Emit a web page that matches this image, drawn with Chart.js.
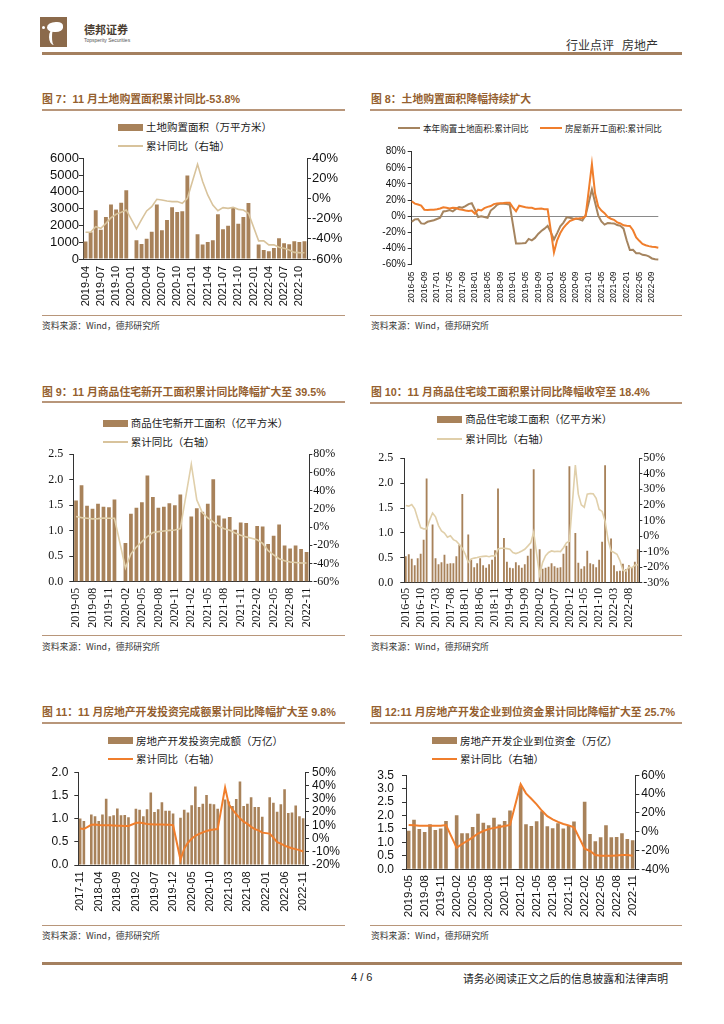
<!DOCTYPE html>
<html>
<head>
<meta charset="utf-8">
<title>行业点评 房地产</title>
<script src="https://cdn.jsdelivr.net/npm/chart.js@4.4.1/dist/chart.umd.min.js"></script>
<style>
  body { margin:0; width:724px; height:1024px; position:relative; background:#fff; overflow:hidden;
         font-family:"Liberation Sans","Noto Sans CJK SC",sans-serif; }
  .a { position:absolute; white-space:nowrap; }
  .title { font-size:10.8px; font-weight:bold; color:#955f2f; line-height:14px; }
  .rule { position:absolute; background:#b8967a; }
  .src { font-size:8.8px; color:#333; line-height:12px; font-family:"Noto Sans CJK SC","Liberation Sans",sans-serif; }
  .leg { font-size:10.5px; color:#222; line-height:14px; font-family:"Noto Sans CJK SC",sans-serif; }
  canvas { position:absolute; }
</style>
</head>
<body>

<!-- header -->
<div class="a" style="left:40px;top:17px;width:27px;height:30px;background:#8b6a4b;overflow:hidden">
  <div class="a" style="left:7px;top:5px;width:16px;height:10px;background:#fff;border-radius:60% 40% 50% 50%"></div>
  <div class="a" style="left:9px;top:12px;width:7px;height:16px;border-left:3px solid #fff;border-radius:50% 0 0 50%"></div>
  <div class="a" style="left:2px;top:9px;width:3px;height:3px;background:#fff;border-radius:50%"></div>
</div>
<div class="a" style="left:84px;top:21px;font-size:11px;font-weight:bold;color:#4a3c30;font-family:'Noto Sans CJK SC'">德邦证券</div>
<div class="a" style="left:84px;top:37px;font-size:5px;color:#555">Topsperity Securities</div>
<div class="a" style="left:566px;top:36px;font-size:12px;color:#333;font-family:'Noto Sans CJK SC'">行业点评&nbsp;&nbsp;&nbsp;房地产</div>
<div class="rule" style="left:42px;top:52px;width:640px;height:2.5px;background:#a4805f"></div>

<!-- titles and rules -->
<div class="a title" style="left:42px;top:92px">图 7：11 月土地购置面积累计同比-53.8%</div>
<div class="rule" style="left:42px;top:109px;width:303px;height:2px"></div>
<div class="rule" style="left:42px;top:314.5px;width:303px;height:1.5px"></div>
<div class="a src" style="left:42px;top:319.5px">资料来源：Wind，德邦研究所</div>

<div class="a title" style="left:371px;top:92px">图 8：土地购置面积降幅持续扩大</div>
<div class="rule" style="left:370px;top:109px;width:312px;height:2px"></div>
<div class="rule" style="left:370px;top:314.5px;width:312px;height:1.5px"></div>
<div class="a src" style="left:371px;top:319.5px">资料来源：Wind，德邦研究所</div>

<div class="a title" style="left:42px;top:385px">图 9：11 月商品住宅新开工面积累计同比降幅扩大至 39.5%</div>
<div class="rule" style="left:42px;top:401px;width:303px;height:2px"></div>
<div class="rule" style="left:42px;top:634.5px;width:303px;height:1.5px"></div>
<div class="a src" style="left:42px;top:640.5px">资料来源：Wind，德邦研究所</div>

<div class="a title" style="left:371px;top:385px">图 10：11 月商品住宅竣工面积累计同比降幅收窄至 18.4%</div>
<div class="rule" style="left:370px;top:401.5px;width:312px;height:2px"></div>
<div class="rule" style="left:370px;top:634.5px;width:312px;height:1.5px"></div>
<div class="a src" style="left:371px;top:640.5px">资料来源：Wind，德邦研究所</div>

<div class="a title" style="left:42px;top:705px">图 11：11 月房地产开发投资完成额累计同比降幅扩大至 9.8%</div>
<div class="rule" style="left:42px;top:722px;width:303px;height:2px"></div>
<div class="rule" style="left:42px;top:924.5px;width:303px;height:1.5px"></div>
<div class="a src" style="left:42px;top:929.5px">资料来源：Wind，德邦研究所</div>

<div class="a title" style="left:371px;top:705px">图 12:11 月房地产开发企业到位资金累计同比降幅扩大至 25.7%</div>
<div class="rule" style="left:370px;top:722px;width:312px;height:2px"></div>
<div class="rule" style="left:370px;top:924.5px;width:312px;height:1.5px"></div>
<div class="a src" style="left:371px;top:929.5px">资料来源：Wind，德邦研究所</div>

<!-- footer -->
<div class="rule" style="left:42px;top:962px;width:640px;height:2.5px;background:#a4805f"></div>
<div class="a" style="left:351px;top:971px;font-size:11px;color:#222">4 / 6</div>
<div class="a" style="left:463px;top:970px;font-size:10.8px;color:#222;font-family:'Noto Sans CJK SC'">请务必阅读正文之后的信息披露和法律声明</div>

<script>
// ---------- data ----------
function months(y, m, n) {
  var out = [];
  for (var i = 0; i < n; i++) {
    var k = m - 1 + i, yy = y + Math.floor(k / 12), mm = k % 12 + 1;
    out.push(yy + '-' + (mm < 10 ? '0' : '') + mm);
  }
  return out;
}

// 图7 土地购置面积（万平方米）, 2019-04 .. 2022-11
var cat7 = months(2019, 4, 44);
var landArea = [1050, 1600, 2900, 1750, 2500, 3250, 2950, 3350, 4100,
  null, 1120, 900, 1200, 1620, 3250, 1720, 2320, 3080, 2800, 2840, 4980,
  null, 1480, 860, 1020, 1120, 2660, 1780, 1980, 3050, 2100, 2500, 3330,
  null, 860, 540, 460, 660, 1240, 940, 880, 1060, 1020, 1060];
var landYoY = [-33.5, -33.5, -28, -29.5, -24.6, -19, -15.6, -13.6, -11.3,
  null, -30, -21, -12.3, -8, -0.7, -1.4, -2.4, -3, -3, -4.7, 0.3,
  null, 34, 17, 3.6, -6.4, -12, -9, -9.7, -8.7, -10.7, -11.3, -14.6,
  null, -42, -42, -46, -45.8, -48.4, -49.4, -51, -53.4, -53.7, -53.8];

// 图8 累计同比, 2016-05 .. 2022-11
var cat8 = months(2016, 5, 79);
var landBuyYoY = [-7, -4, -3.5, -9, -9.5, -7, -6, -5, -3.5, -2,
  5.8, 6.5, 7.5, 6, 9, 11.2, 10.5, 12.5, 15, 16,
  8, -1, 0, -1, -2, 7, 10, 14, 15.5, 15.5,
  15, 14.2, -10, -34, -33.8, -33.7, -33.5, -28.2, -30, -27,
  -22, -18.5, -15.5, -12, -20, -29, -21, -12.5, -8, -1.5,
  -2, -3, -3.3, -4, -5.5, 1, 17, 33, 17, 1,
  -6.5, -10.5, -8.5, -8.8, -9, -11, -12, -15.5, -30, -42,
  -41.8, -46, -46, -48, -48.4, -50, -52.5, -53.5, -53.8];
var newStartYoY = [18.5, 15.5, 14.5, 13, 8, 7.5, 8, 8, 8.5, 9.5,
  11, 10.5, 9.5, 10.5, 10, 8.5, 8, 7, 6.5, 7,
  3, 8, 7, 10, 11.5, 12.5, 15, 15.8, 16, 16.2,
  16.5, 16.5, 11, 6, 13, 12, 11, 10.5, 10.3, 9,
  9.3, 9.5, 8.7, 8.5, -18, -45, -30, -21, -14.5, -10,
  -6, -4.5, -3, -2.7, -2.2, 0, 32, 64.5, 28, 12,
  6.9, 3.8, -0.9, -3.2, -4.5, -7.7, -9.1, -11.4, -12, -12.2,
  -17.5, -26.3, -30.6, -34.4, -36.1, -37.2, -38, -38.4, -39.2];

// 图9 商品住宅新开工面积（亿平方米）, 2019-05 .. 2022-11
var cat9 = months(2019, 5, 43);
var resStart = [1.59, 1.89, 1.49, 1.43, 1.53, 1.47, 1.46, 1.61,
  null, 0.76, 1.33, 1.45, 1.56, 2.08, 1.66, 1.45, 1.47, 1.54, 1.50, 1.71,
  null, 1.28, 1.44, 1.37, 1.53, 2.01, 1.30, 1.24, 1.27, 1.02, 1.16, 1.15,
  null, 1.09, 1.08, 0.74, 0.90, 1.12, 0.71, 0.65, 0.71, 0.64, 0.58];
var resStartYoY = [11.5, 10.4, 9.7, 9, 9.3, 10, 9.7, 9.7,
  null, -44.9, -29.4, -22, -16, -10.4, -6, -5, -4.3, -3.6, -3.2, -1.8,
  null, 69, 29.8, 16, 10, 5.7, 1, -1.8, -3.6, -6.5, -9, -10.8,
  null, -14, -18, -26, -30.5, -34.8, -37, -38.4, -39, -39.5, -39.5];

// 图10 商品住宅竣工面积（亿平方米）, 2016-05 .. 2022-11
var cat10 = months(2016, 5, 79);
var resDone = [0.53, 0.57, 0.48, 0.35, 0.49, 0.58, 0.86, 2.09,
  null, 1.17, 0.49, 0.37, 0.41, 0.56, 0.38, 0.39, 0.39, 0.53, 0.76, 1.78,
  null, 0.97, 0.46, 0.31, 0.39, 0.49, 0.35, 0.30, 0.37, 0.46, 0.65, 1.89,
  null, 0.90, 0.42, 0.30, 0.29, 0.41, 0.35, 0.30, 0.37, 0.54, 0.68, 2.28,
  null, 0.67, 0.28, 0.30, 0.32, 0.39, 0.33, 0.30, 0.31, 0.58, 0.74, 2.34,
  null, 1.00, 0.40, 0.28, 0.33, 0.64, 0.39, 0.37, 0.31, 0.46, 0.82, 2.36,
  null, 0.89, 0.35, 0.23, 0.24, 0.38, 0.27, 0.35, 0.31, 0.42, 0.67];
var resDoneYoY = [19.6, 19.2, 20.2, 17.5, 11.2, 5.4, 4.6, 4.6,
  10.2, 14.8, 12.3, 6.7, 3.3, 1.9, -0.8, 0.2, -2.3, -3.3, -5.4, -7.9,
  -11.7, -16.9, -14.8, -14.2, -13.8, -13.3, -13.1, -12.9, -13.3, -12.7, -12.9, -8.3,
  -7.9, -7.9, -8.1, -8.5, -10.6, -11.3, -10.6, -9.6, -8.5, -6.5, -4.4, 2.5,
  -11.7, -25, -16.9, -12.7, -10.6, -9.6, -10, -9.8, -10, -7.5, -4.4, -3.3,
  21, 45.6, 26.9, 20, 18.5, 26.9, 27.3, 27.1, 24.2, 17.1, 15.8, 9.6,
  -2.3, -9.6, -10.6, -11.7, -15.8, -22, -22.5, -20, -20.4, -18.8, -18.4];

// 图11 房地产开发投资完成额（万亿）, 2017-11 .. 2022-11
var cat11 = months(2017, 11, 61);
var invest = [1.00, 0.95,
  null, 1.09, 1.05, 0.95, 1.09, 1.43, 1.05, 1.07, 1.22, 1.07, 1.08, 1.03,
  null, 1.21, 1.19, 1.05, 1.20, 1.56, 1.14, 1.20, 1.35, 1.17, 1.17, 1.11,
  null, 1.02, 1.19, 1.13, 1.29, 1.69, 1.25, 1.32, 1.51, 1.32, 1.31, 1.21,
  null, 1.41, 1.37, 1.27, 1.42, 1.80, 1.27, 1.32, 1.46, 1.25, 1.25, 1.04,
  null, 1.46, 1.34, 1.15, 1.31, 1.63, 1.12, 1.13, 1.28, 1.05, 1.01];
var investYoY = [7.6, 7.1,
  null, 10.3, 10.5, 10.1, 9.9, 10, 10, 9.8, 9.6, 9.6, 9.5, 9.4,
  null, 11.7, 12, 11.5, 11, 10.8, 10.5, 10.5, 10.5, 10.4, 10.3, 10,
  null, -16.1, -7.6, -3.2, -0.2, 2, 3.4, 4.6, 5.6, 6.4, 6.8, 7.1,
  null, 38.4, 25.7, 21.8, 18.3, 15.2, 12.7, 11, 8.8, 7.1, 6.1, 4.4,
  null, 3.7, 0.7, -2.7, -3.9, -5.4, -6.4, -7.3, -8, -8.8, -9.8];

// 图12 房地产开发企业到位资金（万亿）, 2019-05 .. 2022-11
var cat12 = months(2019, 5, 43);
var funds = [1.43, 1.84, 1.50, 1.39, 1.68, 1.46, 1.52, 1.80,
  null, 2.01, 1.34, 1.34, 1.57, 2.07, 1.73, 1.64, 1.92, 1.67, 1.80, 2.19,
  null, 3.10, 1.68, 1.61, 1.79, 2.16, 1.60, 1.53, 1.71, 1.52, 1.65, 1.78,
  null, 2.51, 1.31, 1.04, 1.19, 1.64, 1.19, 1.20, 1.34, 1.13, 1.08];
var fundsYoY = [7.1, 6.7, 6.4, 6.4, 6.4, 6.4, 6.4, 7.1,
  null, -17.2, -13.1, -9.8, -6.1, -2, 0.7, 2.7, 4, 5, 6.1, 7.1,
  null, 50.5, 40.7, 35, 29, 22.2, 16.5, 13.1, 10.4, 8.1, 6.7, 4.7,
  null, -18.2, -20.5, -24.9, -25.6, -25.6, -25.6, -25.3, -24.9, -24.9, -25.7];

// ---------- styles ----------
var BAR = '#a8825a', TAN = '#d8c39c', PALE = '#e0cfaa', ORANGE = '#f07e2c', BROWN = '#a5845f';
var SANS = 'Liberation Sans', SERIF = 'Liberation Serif';
var pct = function (v) { return v + '%'; };
var one = function (v) { return v.toFixed(1); };

function place(left, top, w, h) {
  var c = document.createElement('canvas');
  c.width = w; c.height = h;
  c.style.left = left + 'px'; c.style.top = top + 'px';
  document.body.appendChild(c);
  return c;
}

function legend(x, cy, kind, color, text, size) {
  var s = document.createElement('div');
  s.className = 'a';
  var h = kind === 'bar' ? 7 : 2;
  var w = size ? 22 : 25;
  s.style.cssText = 'left:' + x + 'px;top:' + (cy - h / 2) + 'px;width:' + w + 'px;height:' + h + 'px;background:' + color;
  document.body.appendChild(s);
  var t = document.createElement('div');
  t.className = 'a leg';
  t.textContent = text;
  t.style.left = (x + w + 3) + 'px';
  t.style.top = (cy - 7) + 'px';
  if (size) t.style.fontSize = size + 'px';
  document.body.appendChild(t);
}

function xAxis(step, fam, size, h, pad, offset, line) {
  return {
    offset: offset,
    border: { display: line, color: '#333', width: 1 },
    grid: { display: false, drawTicks: false },
    ticks: { autoSkip: false, minRotation: 90, maxRotation: 90, padding: pad, color: '#111',
      font: { family: fam, size: size },
      callback: function (v, i) { return i % step === 0 ? this.getLabelForValue(v) : null; } },
    afterFit: function (s) { s.height = h; }
  };
}

function yAxis(pos, min, max, step, fmt, fam, size, w, tick, pad) {
  return {
    position: pos, min: min, max: max,
    border: { display: true, color: '#333', width: 1 },
    grid: { drawOnChartArea: false, drawTicks: true, tickLength: tick, color: '#333' },
    ticks: { stepSize: step, autoSkip: false, padding: pad, color: '#111',
      font: { family: fam, size: size }, callback: fmt },
    afterFit: function (s) { s.width = w; }
  };
}

function combo(c, cats, bars, line, lineColor, lineW, barPct, x, y, y1, padTop) {
  return new Chart(c, {
    type: 'bar',
    data: {
      labels: cats,
      datasets: [
        { type: 'line', data: line, yAxisID: 'y1', borderColor: lineColor, borderWidth: lineW,
          pointRadius: 0, tension: 0, spanGaps: true, order: 0 },
        { type: 'bar', data: bars, yAxisID: 'y', backgroundColor: BAR, borderWidth: 0,
          barPercentage: barPct, categoryPercentage: 1, order: 1 }
      ]
    },
    options: {
      responsive: false, animation: false, events: [],
      layout: { padding: { top: padTop, left: 0, right: 0, bottom: 0 } },
      plugins: { legend: { display: false }, tooltip: { enabled: false } },
      scales: { x: x, y: y, y1: y1 }
    }
  });
}

// 图7
legend(118, 127.3, 'bar', BAR, '土地购置面积（万平方米）');
legend(118, 146, 'line', TAN, '累计同比（右轴）');
combo(place(40, 148, 305, 162), cat7, landArea, landYoY, TAN, 1.6, 0.76,
  xAxis(3, SANS, 11, 51, 7, true, true),
  yAxis('left', 0, 6000, 1000, function (v) { return v; }, SANS, 13, 43, 4, 0),
  yAxis('right', -60, 40, 20, pct, SANS, 13, 38, 4, 1), 10.3);

// 图8
legend(398, 128, 'line', BROWN, '本年购置土地面积:累计同比', 8.6);
legend(540, 128, 'line', ORANGE, '房屋新开工面积:累计同比', 8.6);
new Chart(place(370, 141, 315, 169), {
  type: 'line',
  data: {
    labels: cat8,
    datasets: [
      { data: newStartYoY, borderColor: ORANGE, borderWidth: 2, pointRadius: 0, tension: 0, order: 0 },
      { data: landBuyYoY, borderColor: BROWN, borderWidth: 2, pointRadius: 0, tension: 0, order: 1 }
    ]
  },
  options: {
    responsive: false, animation: false, events: [],
    layout: { padding: { top: 10.7, right: 26.7, left: 0, bottom: 0 } },
    plugins: { legend: { display: false }, tooltip: { enabled: false } },
    scales: {
      x: xAxis(4, SANS, 8.5, 45.5, 7, false, false),
      y: {
        min: -60, max: 80,
        border: { display: true, color: '#333', width: 1 },
        grid: { drawTicks: true, tickLength: 4, tickColor: '#333',
          color: function (ctx) { return ctx.tick && ctx.tick.value === 0 ? '#8a8a8a' : 'rgba(0,0,0,0)'; } },
        ticks: { stepSize: 20, autoSkip: false, padding: 2, color: '#111',
          font: { family: SANS, size: 10 }, callback: pct },
        afterFit: function (s) { s.width = 41.7; }
      }
    }
  }
});

// 图9
legend(102.7, 423.3, 'bar', BAR, '商品住宅新开工面积（亿平方米）');
legend(102.7, 442.3, 'line', TAN, '累计同比（右轴）');
combo(place(40, 441, 305, 191), cat9, resStart, resStartYoY, PALE, 1.6, 0.68,
  xAxis(3, SERIF, 12, 50.3, 6, true, true),
  yAxis('left', 0, 2.5, 0.5, one, SERIF, 12, 33.3, 4, 6),
  yAxis('right', -60, 80, 20, pct, SERIF, 12, 35.7, 3, 1), 10.7);

// 图10
legend(437.3, 419.3, 'bar', BAR, '商品住宅竣工面积（亿平方米）');
legend(437.3, 439.3, 'line', PALE, '累计同比（右轴）');
combo(place(370, 444, 315, 188), cat10, resDone, resDoneYoY, PALE, 1.6, 0.62,
  xAxis(5, SERIF, 12, 49.3, 5, true, true),
  yAxis('left', 0, 2.5, 0.5, one, SERIF, 12, 34.3, 4, 7),
  yAxis('right', -30, 50, 10, pct, SERIF, 12, 45.7, 3, 1), 10.7);

// 图11
legend(108, 740.7, 'bar', BAR, '房地产开发投资完成额（万亿）');
legend(108, 759, 'line', ORANGE, '累计同比（右轴）');
combo(place(40, 759, 305, 162), cat11, invest, investYoY, ORANGE, 2, 0.7,
  xAxis(5, SANS, 11, 56, 6.5, true, true),
  yAxis('left', 0, 2.0, 0.5, one, SANS, 12, 38.3, 4, 6),
  yAxis('right', -20, 50, 10, pct, SANS, 12, 40, 4, 3), 10.7);

// 图12
legend(432, 740.7, 'bar', BAR, '房地产开发企业到位资金（万亿）');
legend(432, 759, 'line', ORANGE, '累计同比（右轴）');
combo(place(370, 760, 315, 161), cat12, funds, fundsYoY, ORANGE, 2, 0.68,
  xAxis(3, SANS, 11.5, 51.7, 5.7, true, true),
  yAxis('left', 0, 3.5, 0.5, one, SANS, 12, 36, 4, 8),
  yAxis('right', -40, 60, 20, pct, SANS, 12, 49.7, 4, 2), 10.3);
</script>
</body>
</html>
